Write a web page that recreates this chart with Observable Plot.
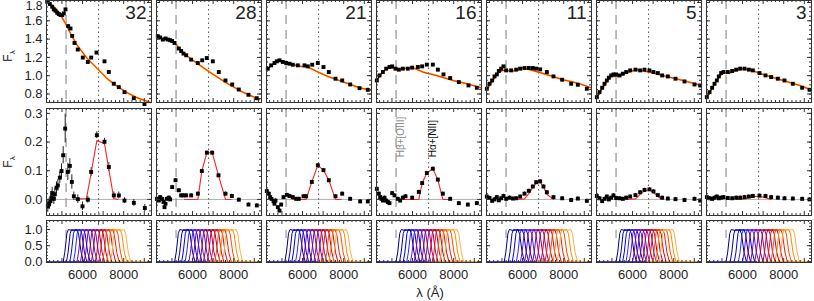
<!DOCTYPE html>
<html><head><meta charset="utf-8">
<script src="https://cdn.jsdelivr.net/npm/d3@7"></script>
<script src="https://cdn.jsdelivr.net/npm/@observablehq/plot@0.6"></script>
<style>
body{margin:0;background:#fff;}
#fig{position:relative;width:814px;height:301px;overflow:hidden;font-family:"Liberation Sans",sans-serif;color:#222;}
.lab{position:absolute;white-space:nowrap;font-family:"Liberation Sans",sans-serif;}
</style></head><body><div id="fig"></div>
<script>
// ---------------- data ----------------
const panelLabels = ["32","28","21","16","11","5","3"];
const lineHb = 5200, lineHa = 6780;
const xTickLabels = [6000, 8000];
const xMajor = [5000,6000,7000,8000,9000];
const xMinor = [4400,4600,4800,5200,5400,5600,5800,6200,6400,6600,6800,7200,7400,7600,7800,8200,8400,8600,8800,9200];
const sedTickLabels = [0.8,1.0,1.2,1.4,1.6,1.8];
const emTickLabels = [0.0,0.1,0.2,0.3];
const filtTickLabels = [0.0,0.5,1.0];

// top row: observed SED (squares) and model
const sedX = [
 [4284,4411,4527,4605,4687,4770,4849,4930,5013,5090,5173,5304,5416,5498,5610,5770,6013,6256,6421,6678,7067,7276,7519,7762,8039,8490,9010],
 [4313,4428,4556,4687,4800,4915,5011,5124,5335,5448,5561,5691,5934,6256,6470,6693,6985,7276,7601,7927,8247,8718,9122],
 [4313,4477,4639,4752,4881,5042,5205,5367,5528,5771,6096,6256,6470,6742,7018,7276,7601,7927,8315,8767,9170],
 [4266,4396,4558,4720,4881,5011,5173,5335,5529,5772,5982,6258,6468,6695,6986,7229,7504,7828,8249,8718,9123],
 [4266,4396,4525,4639,4752,4849,4962,5076,5205,5448,5691,5885,6096,6306,6500,6662,6857,7180,7504,7925,8362,8686,9123],
 [4266,4396,4525,4639,4752,4849,4962,5076,5205,5367,5529,5691,5885,6144,6371,6581,6824,7018,7229,7439,7715,8087,8524,9010,9285],
 [4266,4396,4525,4639,4752,4849,4962,5076,5286,5497,5691,5885,6096,6306,6500,6824,7116,7391,7715,8038,8443,8897,9253]
];
const sedY = [
 [1.809,1.784,1.754,1.725,1.710,1.688,1.674,1.663,1.663,1.681,1.725,1.542,1.516,1.435,1.358,1.286,1.198,1.150,1.198,1.253,1.157,1.040,0.912,0.875,0.820,0.754,0.690],
 [1.432,1.418,1.395,1.406,1.395,1.388,1.380,1.358,1.297,1.270,1.242,1.223,1.176,1.138,1.168,1.193,1.157,1.040,0.948,0.904,0.849,0.791,0.754],
 [1.077,1.113,1.139,1.157,1.168,1.150,1.139,1.131,1.120,1.113,1.113,1.102,1.120,1.139,1.095,1.040,0.967,0.948,0.904,0.864,0.846],
 [0.948,1.003,1.040,1.077,1.095,1.102,1.077,1.066,1.077,1.077,1.088,1.095,1.102,1.121,1.121,1.066,1.014,0.974,0.930,0.894,0.868],
 [0.857,0.912,0.948,0.992,1.014,1.051,1.077,1.102,1.058,1.058,1.066,1.077,1.084,1.084,1.084,1.077,1.069,1.040,0.992,0.956,0.912,0.901,0.857],
 [0.765,0.820,0.868,0.912,0.948,0.978,1.003,1.014,1.014,1.003,1.022,1.040,1.058,1.066,1.058,1.066,1.058,1.040,1.029,1.003,0.992,0.967,0.937,0.904,0.893],
 [0.765,0.820,0.868,0.912,0.948,0.992,1.029,1.040,1.040,1.051,1.066,1.077,1.077,1.066,1.058,1.029,1.003,0.985,0.967,0.948,0.912,0.868,0.846]
];
const modelX = [
 [4284,4687,4930,5173,5416,5740,6230,6720,7200,7690,8180,8660,9310],
 [4266,4396,4525,4687,4881,5124,5448,6013,6824,7635,8441,9253],
 [4266,4480,4700,4880,5100,5500,6000,6250,6750,7250,7750,8250,8750,9300],
 [4266,4558,4881,5205,6015,6500,7148,7958,8767,9334],
 [4266,4558,4800,5043,5529,6015,6339,7148,7958,8767,9334],
 [4266,4558,4800,4962,5367,5691,6177,6824,7634,8443,9334],
 [4266,4558,4800,5043,5367,5934,6339,7148,7958,8767,9334]
];
const modelY = [
 [1.820,1.736,1.663,1.571,1.462,1.333,1.187,1.077,0.967,0.882,0.813,0.758,0.707],
 [1.395,1.432,1.395,1.418,1.395,1.369,1.270,1.168,1.040,0.923,0.820,0.740],
 [1.060,1.110,1.150,1.170,1.150,1.120,1.100,1.095,1.040,0.990,0.950,0.910,0.870,0.840],
 [0.948,1.040,1.095,1.069,1.088,1.040,1.003,0.948,0.904,0.868],
 [0.846,0.948,1.029,1.058,1.051,1.084,1.066,1.014,0.956,0.912,0.868],
 [0.758,0.868,0.948,0.992,0.992,1.029,1.066,1.040,0.992,0.948,0.893],
 [0.758,0.875,0.967,1.029,1.029,1.077,1.066,1.003,0.948,0.894,0.846]
];

// middle row: emission-line residuals and gaussian fit
const emX = [
 [4315,4380,4445,4493,4525,4606,4655,4736,4801,4898,4979,5060,5157,5286,5384,5481,5578,5772,5999,6258,6420,6695,7067,7277,7521,7763,8038,8492,9026],
 [4266,4363,4428,4525,4590,4639,4687,4752,4849,4914,5011,5173,5335,5448,5561,5691,5934,6258,6452,6695,6954,7261,7601,7909,8249,8718,9123],
 [4266,4363,4428,4493,4590,4638,4687,4800,4881,4962,5075,5237,5367,5529,5690,5820,6047,6176,6451,6743,7018,7277,7601,7925,8313,8799,9171],
 [4266,4363,4428,4493,4558,4639,4720,4800,4881,5011,5124,5286,5399,5529,5658,5982,6306,6468,6695,6986,7229,7472,7828,8249,8686,9123],
 [4266,4396,4525,4639,4752,4849,4962,5076,5205,5367,5529,5691,5885,6096,6306,6500,6662,6857,7018,7180,7504,7925,8362,8686,9123],
 [4266,4396,4525,4639,4752,4849,4962,5076,5205,5367,5529,5691,5885,6144,6371,6581,6824,7018,7229,7439,7715,8087,8524,9010,9285],
 [4266,4396,4525,4639,4752,4849,4962,5076,5286,5497,5691,5885,6096,6306,6500,6824,7116,7391,7715,8038,8443,8897,9253]
];
const emY = [
 [-0.024,-0.015,-0.006,0.006,0.022,0.002,0.018,0.041,0.049,0.076,0.099,0.154,0.247,0.096,0.117,0.061,0.011,0.001,-0.024,-0.001,0.096,0.224,0.201,0.113,0.014,0.014,-0.004,-0.012,-0.030],
 [0.002,-0.004,0.008,0.002,-0.009,-0.027,-0.015,0.002,0.006,0.000,0.043,0.067,0.032,0.014,0.014,0.014,0.014,0.020,0.099,0.163,0.163,0.084,0.020,0.012,-0.001,-0.018,-0.021],
 [0.029,0.020,0.008,0.002,-0.006,-0.015,-0.004,-0.027,-0.039,-0.018,0.008,0.016,0.012,0.008,0.002,0.002,0.011,0.011,0.061,0.119,0.102,0.067,0.011,0.020,0.002,-0.007,-0.007],
 [0.037,0.020,0.008,0.002,-0.004,0.006,-0.004,-0.009,-0.013,0.022,0.014,0.002,-0.004,0.006,0.011,0.006,0.026,0.057,0.092,0.107,0.069,0.020,0.002,-0.013,-0.018,-0.013],
 [0.010,0.005,-0.005,0.000,0.008,-0.003,0.004,0.012,0.002,0.006,0.003,0.004,0.010,0.020,0.030,0.045,0.060,0.063,0.045,0.025,0.008,0.004,-0.002,0.003,-0.005],
 [0.012,0.004,-0.006,0.002,0.010,0.000,0.006,0.014,0.005,0.004,0.002,0.006,0.010,0.015,0.025,0.033,0.035,0.028,0.015,0.006,0.003,0.001,-0.002,0.002,-0.004],
 [0.008,0.004,0.002,0.006,0.010,0.004,0.006,0.008,0.005,0.004,0.006,0.006,0.008,0.010,0.012,0.013,0.012,0.008,0.006,0.004,0.003,0.002,0.000]
];
const emErr1 = [0.02,0.02,0.02,0.02,0.02,0.02,0.02,0.02,0.02,0.02,0.025,0.03,0.05,0.03,0.025,0.025,0.015,0.015,0.015,0.012,0.015,0.012,0.012,0.015,0.012,0.012,0.01,0.012,0.012];
const gaussX = [
 [5660,6190,6420,6695,7067,7277,7521,7720],
 [5609,6258,6452,6695,6954,7261,7601,7877],
 [5529,6176,6451,6743,7018,7277,7601,7877],
 [5529,6306,6468,6695,6986,7229,7472,7796],
 [5691,6096,6306,6500,6662,6857,7018,7180,7504],
 [5691,6144,6371,6581,6824,7018,7229,7439],
 [5691,6096,6306,6500,6824,7116,7391]
];
const gaussY = [
 [0.001,0.003,0.093,0.205,0.195,0.105,0.003,0.000],
 [0.000,0.000,0.099,0.163,0.163,0.084,0.000,0.000],
 [0.000,0.000,0.061,0.119,0.102,0.067,0.000,0.000],
 [0.000,0.000,0.057,0.092,0.107,0.069,0.000,0.000],
 [0.000,0.002,0.020,0.042,0.056,0.060,0.044,0.018,0.000],
 [0.000,0.002,0.018,0.030,0.034,0.025,0.010,0.000],
 [0.000,0.002,0.006,0.010,0.011,0.006,0.000]
];

// bottom row: filter transmission curves
const filterCenters = [
 [5560,5720,5880,6060,6230,6400,6580,6760,6930,7120,7290,7470,7660,7850],
 [5630,5800,5970,6140,6320,6490,6670,6850,7030,7210,7390,7580,7770,7950],
 [5640,5810,5980,6160,6340,6520,6690,6870,7050,7230,7410,7600,7780,7960],
 [5700,5870,6050,6220,6400,6580,6750,6930,7100,7280,7460,7640,7820,8000],
 [5610,5810,6000,6200,6400,6600,6790,6990,7190,7390,7590,7780,7980,8180],
 [5700,5860,6020,6180,6340,6500,6660,6820,6980,7140,7300,7460,7620,7790],
 [5700,5900,6100,6300,6500,6700,6890,7090,7290,7490,7690,7880,8080,8280]
];
const profileDx = [-500,-420,-320,-250,-60,170,250,370,490];
const profileT  = [0,0.3,0.88,1.0,0.97,1.0,0.86,0.3,0];
const filterColors = ["#000070","#0000a8","#0000e0","#2a2aff","#5a10e0","#7400c0","#800090","#900060","#b00030","#d80010","#f81800","#ff4a00","#ff8a00","#ffae40"];
const baseSplit = 6730;

// ---------------- layout ----------------
const fig = document.getElementById("fig");
const W = 105;
const colLeft = i => 46 + 110 * i;
const rows = [
 {top: 0,   bottom: 102, domain: [0.707, 1.822], major: [0.8,1.0,1.2,1.4,1.6,1.8], minor: d3.range(0.75, 1.85, 0.05)},
 {top: 108, bottom: 215, domain: [-0.056, 0.317], major: [0,0.1,0.2,0.3], minor: d3.range(-0.04, 0.32, 0.02)},
 {top: 220, bottom: 262, domain: [-0.02, 1.28], major: [0,0.5,1.0], minor: d3.range(0, 1.3, 0.1)}
];
const FONT = "Liberation Sans, Arial, sans-serif";

function tickMarks(row) {
  const r = rows[row];
  const h = r.bottom - r.top;
  const c = "#333";
  return [
    Plot.tickX(xMajor, {x: d => d, insetTop: h - 4, stroke: c}),
    Plot.tickX(xMajor, {x: d => d, insetBottom: h - 4, stroke: c}),
    Plot.tickX(xMinor, {x: d => d, insetTop: h - 2, stroke: c}),
    Plot.tickX(xMinor, {x: d => d, insetBottom: h - 2, stroke: c}),
    Plot.tickY(r.major, {y: d => d, insetRight: W - 4, stroke: c}),
    Plot.tickY(r.major, {y: d => d, insetLeft: W - 4, stroke: c}),
    Plot.tickY(r.minor, {y: d => d, insetRight: W - 2, stroke: c}),
    Plot.tickY(r.minor, {y: d => d, insetLeft: W - 2, stroke: c})
  ];
}

function panel(row, col, marks) {
  const r = rows[row];
  const ml = 48, mr = 6, mt = 6, mb = row === 2 ? 36 : 6;
  const h = r.bottom - r.top;
  const svg = Plot.plot({
    width: ml + W + mr, height: mt + h + mb,
    marginLeft: ml, marginRight: mr, marginTop: mt, marginBottom: mb,
    x: {domain: [4250, 9350], axis: null},
    y: {domain: r.domain, axis: null},
    style: {background: "transparent", overflow: "visible", fontFamily: FONT, fontSize: "13px", color: "#222"},
    marks: [...marks, ...tickMarks(row), Plot.frame({stroke: "#333"})]
  });
  svg.style.position = "absolute";
  svg.style.left = (colLeft(col) - ml) + "px";
  svg.style.top = (r.top - mt) + "px";
  fig.appendChild(svg);
}

const vlines = [
  Plot.ruleX([lineHb], {stroke: "#9a9a9a", strokeWidth: 1.3, strokeDasharray: "9,6"}),
  Plot.ruleX([lineHa], {stroke: "#555", strokeWidth: 1, strokeDasharray: "1.5,3"})
];

for (let i = 0; i < 7; i++) {
  // ----- top row -----
  const sed = sedX[i].map((x, k) => ({x, y: sedY[i][k]}));
  const mod = modelX[i].map((x, k) => ({x, y: modelY[i][k]}));
  const topMarks = [
    ...vlines,
    Plot.line(mod, {x: "x", y: "y", stroke: "#ffa000", strokeWidth: 1.8}),
    Plot.line(mod, {x: "x", y: "y", stroke: "#ff2a00", strokeWidth: 1}),
    Plot.line(sed.filter(d => d.x < 5200), {x: "x", y: "y", stroke: "#000", strokeWidth: 1}),
    Plot.dot(sed, {x: "x", y: "y", symbol: "square", r: 2.2, fill: "#000", stroke: null}),
    Plot.text([panelLabels[i]], {frameAnchor: "top-right", dx: -5, dy: 5, lineAnchor: "top", textAnchor: "end", fontSize: 19, fill: "#222", text: d => d})
  ];
  if (i === 0) {
    topMarks.push(Plot.text(sedTickLabels.filter(d => d < 1.7), {y: d => d, frameAnchor: "left", dx: -4, textAnchor: "end", text: d => d.toFixed(1), fill: "#222"}));
    topMarks.push(Plot.text(sedTickLabels.filter(d => d > 1.7), {y: d => d, frameAnchor: "left", dx: -4, dy: 4, textAnchor: "end", fontSize: 12, text: d => d.toFixed(1), fill: "#222"}));
  }
  panel(0, i, topMarks);

  // ----- middle row -----
  const em = emX[i].map((x, k) => ({x, y: emY[i][k], e: i === 0 ? emErr1[k] : 0.006}));
  const gs = gaussX[i].map((x, k) => ({x, y: gaussY[i][k]}));
  const midMarks = [
    Plot.ruleY([0], {stroke: "#b0b0b0", strokeWidth: 1}),
    ...vlines,
    Plot.ruleX(em, {x: "x", y1: d => d.y - d.e, y2: d => Math.min(d.y + d.e, 0.317), stroke: "#222", strokeWidth: 1}),
    Plot.line(gs, {x: "x", y: "y", stroke: "#ff2020", strokeWidth: 1.1}),
    Plot.dot(em, {x: "x", y: "y", symbol: "square", r: 2.2, fill: "#000", stroke: null})
  ];
  if (i === 0) midMarks.push(Plot.text(emTickLabels, {y: d => d, frameAnchor: "left", dx: -4, textAnchor: "end", text: d => d.toFixed(1), fill: "#222"}));
  if (i === 3) {
    midMarks.push(Plot.text(["H\u03B2+[OIII]"], {x: lineHb, y: 0.147, dx: 1, rotate: -90, textAnchor: "start", lineAnchor: "top", fontSize: 10, fill: "#8a8a8a", text: d => d}));
    midMarks.push(Plot.text(["H\u03B1+[NII]"], {x: lineHa, y: 0.147, dx: 0, rotate: -90, textAnchor: "start", lineAnchor: "top", fontSize: 10, fill: "#111", text: d => d}));
  }
  panel(1, i, midMarks);

  // ----- bottom row -----
  const curves = [];
  filterCenters[i].forEach((c, f) => {
    profileDx.forEach((dx, k) => curves.push({f, x: c + dx, t: profileT[k]}));
  });
  const botMarks = [
    Plot.ruleY([0], {x1: 4250, x2: baseSplit, stroke: "#0000e0", strokeWidth: 1.2}),
    Plot.ruleY([0], {x1: baseSplit, x2: 9350, stroke: "#ff8a00", strokeWidth: 1.2}),
    Plot.ruleX([lineHb], {y1: 0.72, y2: 0.98, stroke: "#9a9a9a", strokeWidth: 1.2}),
    Plot.ruleX([lineHa], {y1: 1.12, y2: 1.28, stroke: "#555", strokeWidth: 1}),
    Plot.line(curves, {x: "x", y: "t", z: "f", stroke: d => filterColors[d.f], strokeWidth: 1})
  ];
  botMarks.push(Plot.text(xTickLabels, {x: d => d, frameAnchor: "bottom", dy: 16, text: d => String(d), fill: "#222"}));
  if (i === 0) botMarks.push(Plot.text(filtTickLabels, {y: d => d, frameAnchor: "left", dx: -4, textAnchor: "end", text: d => d.toFixed(1), fill: "#222"}));
  panel(2, i, botMarks);
}

// axis titles
function addLabel(html, left, top, rot, size) {
  const d = document.createElement("div");
  d.className = "lab";
  d.innerHTML = html;
  d.style.left = left + "px"; d.style.top = top + "px";
  d.style.fontSize = size + "px";
  d.style.transform = "translate(-50%,-50%)" + (rot ? " rotate(" + rot + "deg)" : "");
  fig.appendChild(d);
}
addLabel("F<sub style='font-size:8px'>\u03BB</sub>", 9, 56, -90, 12);
addLabel("F<sub style='font-size:8px'>\u03BB</sub>", 9, 162, -90, 12);
addLabel("\u03BB (\u00C5)", 430, 292, 0, 13);
</script></body></html>
